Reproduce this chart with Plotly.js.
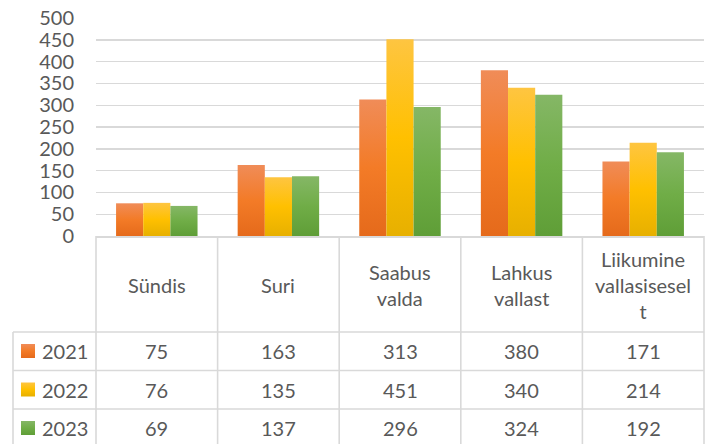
<!DOCTYPE html>
<html>
<head>
<meta charset="utf-8">
<script src="https://cdn.plot.ly/plotly-3.0.1.min.js"></script>
<style>html,body{margin:0;padding:0;background:#fff;}#chart{width:715px;height:444px;}</style>
</head>
<body>
<div id="chart"></div>
<script>
// ---- data ----
var categories = ['Sündis', 'Suri', 'Saabus valda', 'Lahkus vallast', 'Liikumine vallasiseselt'];
var categoryLabels = ['Sündis', 'Suri', 'Saabus<br>valda', 'Lahkus<br>vallast', 'Liikumine<br>vallasisesel<br>t'];
var seriesNames = ['2021', '2022', '2023'];
var values2021 = [75, 163, 313, 380, 171];
var values2022 = [76, 135, 451, 340, 214];
var values2023 = [69, 137, 296, 324, 192];
var yTickValues = [0, 50, 100, 150, 200, 250, 300, 350, 400, 450, 500];

// ---- styles ----
var seriesValues = [values2021, values2022, values2023];
var colors = ['#F07B2A', '#FFC10E', '#70AD47'];
var gradStops = [
  ['#F08C58', '#F37B27', '#E56A1B'],
  ['#FEC541', '#FFC000', '#E7B000'],
  ['#85B766', '#70AD47', '#5F9E37']
];
var textColor = '#595959';
var lineColor = '#D9D9D9';
var fontFam = 'Lato, "Open Sans", sans-serif';

var xIdx = categories.map(function (c, i) { return i; });
var traces = seriesValues.map(function (vals, s) {
  return {
    type: 'bar', name: seriesNames[s], x: xIdx, y: vals,
    marker: { color: colors[s], line: { width: 0 } },
    hoverinfo: 'none'
  };
});

// table geometry (paper coords; plot area 0..1)
var pxH = 218;
function py(px) { return (236 - px) / pxH; }
var headerBottom = py(332);
var rowLines = [py(370.5), py(409)];
var tableBottom = py(460);
var headerCenter = py(284.5);
var rowCenters = [py(351), py(389.5), py(428)];
var leftEdge = (13 - 96) / 608;

var shapes = [];
function line(x0, y0, x1, y1) {
  shapes.push({ type: 'line', xref: 'paper', yref: 'paper', x0: x0, y0: y0, x1: x1, y1: y1,
    line: { color: lineColor, width: 1.6 }, layer: 'below' });
}
// verticals
line(0, 0, 0, tableBottom);
for (var k = 1; k <= categories.length; k++) line(k / categories.length, 0, k / categories.length, tableBottom);
line(leftEdge, headerBottom, leftEdge, tableBottom);
// horizontals
line(leftEdge, headerBottom, 1, headerBottom);
rowLines.forEach(function (y) { line(leftEdge, y, 1, y); });

var annotations = [];
categories.forEach(function (c, i) {
  annotations.push({ xref: 'x', yref: 'paper', x: i, y: headerCenter, text: categoryLabels[i],
    showarrow: false, xanchor: 'center', yanchor: 'middle',
    font: { family: fontFam, size: 20, color: textColor } });
});
seriesValues.forEach(function (vals, s) {
  vals.forEach(function (v, i) {
    annotations.push({ xref: 'x', yref: 'paper', x: i, y: rowCenters[s], text: String(v),
      showarrow: false, xanchor: 'center', yanchor: 'middle',
      font: { family: fontFam, size: 20, color: textColor } });
  });
  annotations.push({ xref: 'paper', yref: 'paper', x: (40 - 96) / 608, y: rowCenters[s], text: seriesNames[s],
    showarrow: false, xanchor: 'left', yanchor: 'middle',
    font: { family: fontFam, size: 20, color: textColor } });
  var half = 7 / pxH;
  shapes.push({ type: 'rect', xref: 'paper', yref: 'paper',
    x0: (21 - 96) / 608, x1: (35 - 96) / 608, y0: rowCenters[s] - half, y1: rowCenters[s] + half,
    fillcolor: colors[s], line: { width: 0 }, layer: 'above' });
});

var layout = {
  width: 715, height: 444,
  margin: { l: 96, r: 11, t: 18, b: 208 },
  paper_bgcolor: '#fff', plot_bgcolor: '#fff',
  showlegend: false,
  barmode: 'group', bargap: 0.33, bargroupgap: 0,
  font: { family: fontFam, color: textColor },
  xaxis: { range: [-0.5, categories.length - 0.5], showticklabels: false, ticks: '',
    showgrid: false, zeroline: false, showline: true, linecolor: lineColor, linewidth: 1.6, fixedrange: true },
  yaxis: { range: [0, 500], tickvals: yTickValues, ticktext: yTickValues.map(String), ticks: '',
    showgrid: true, gridcolor: lineColor, gridwidth: 1.4, zeroline: false, showline: false,
    ticklabelstandoff: 21,
    tickfont: { family: fontFam, size: 20, color: textColor }, fixedrange: true },
  shapes: shapes,
  annotations: annotations
};

Plotly.newPlot('chart', traces, layout, { staticPlot: true }).then(function (gd) {
  var svg = gd.querySelector('svg.main-svg');
  var ns = 'http://www.w3.org/2000/svg';
  var defs = svg.querySelector('defs') || svg.insertBefore(document.createElementNS(ns, 'defs'), svg.firstChild);
  gradStops.forEach(function (st, s) {
    var g = document.createElementNS(ns, 'linearGradient');
    g.setAttribute('id', 'bargrad' + s);
    g.setAttribute('x1', '0'); g.setAttribute('y1', '0'); g.setAttribute('x2', '0'); g.setAttribute('y2', '1');
    [[0, st[0]], [0.5, st[1]], [1, st[2]]].forEach(function (p) {
      var stop = document.createElementNS(ns, 'stop');
      stop.setAttribute('offset', p[0]); stop.setAttribute('stop-color', p[1]);
      g.appendChild(stop);
    });
    defs.appendChild(g);
  });
  var groups = gd.querySelectorAll('.barlayer .trace.bars');
  groups.forEach(function (grp, s) {
    grp.querySelectorAll('.point path').forEach(function (p) { p.style.fill = 'url(#bargrad' + s + ')'; });
  });
  var rects = gd.querySelectorAll('.layer-above .shapelayer path');
  var ri = 0;
  rects.forEach(function (p) {
    if (p.getAttribute('d') && p.getAttribute('d').indexOf('Z') >= 0 && ri < 3) { p.style.fill = 'url(#bargrad' + ri + ')'; ri++; }
  });
});
</script>
</body>
</html>
